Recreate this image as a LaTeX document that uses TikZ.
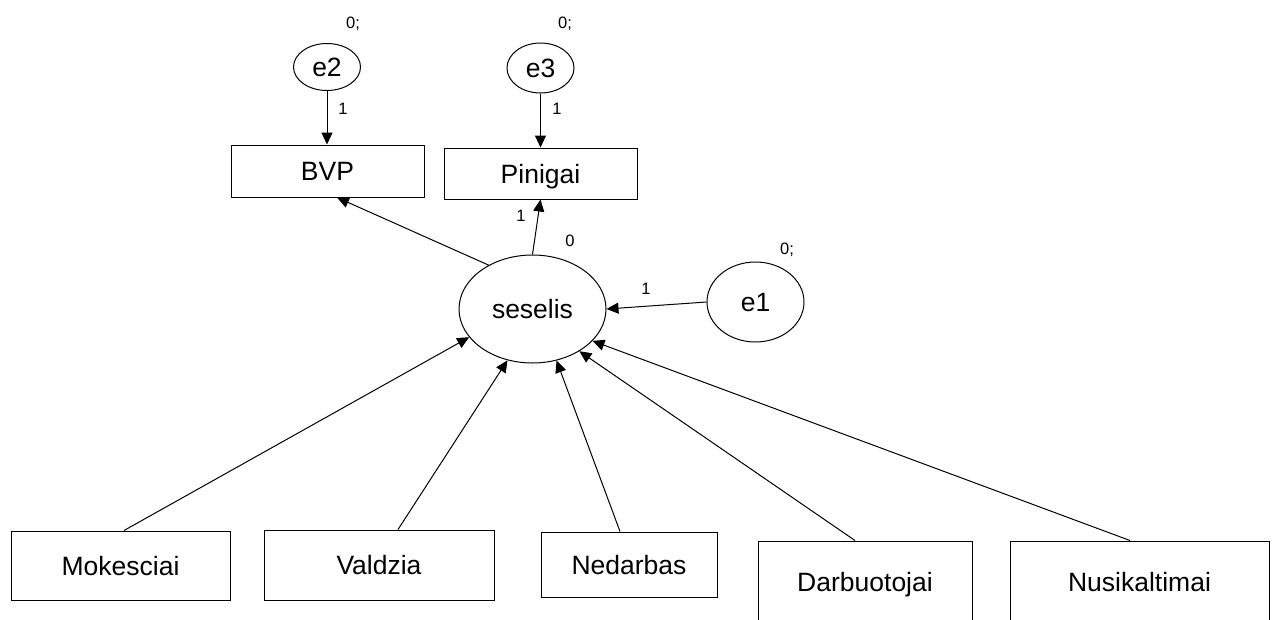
\documentclass[tikz,border=0pt]{standalone}
\usepackage{fontspec}
\setmainfont{Liberation Sans}
\usetikzlibrary{shapes.geometric,arrows.meta,calc}
\begin{document}
\begin{tikzpicture}[x=1pt,y=-1pt,
  every node/.style={inner sep=0pt},
  obs/.style={draw,rectangle,line width=1pt,font=\fontsize{26.5}{30}\selectfont,text height=19pt,text depth=0pt},
  lat/.style={draw,ellipse,line width=1pt,font=\fontsize{26.5}{30}\selectfont,text height=19pt,text depth=0pt},
  par/.style={font=\fontsize{16.5}{19}\selectfont,text height=12pt,text depth=0pt},
  reg/.style={line width=1pt,-{Triangle[length=12pt,width=11pt]}}
]
\useasboundingbox (0,0) rectangle (1278,619);
\clip (0,0) rectangle (1278,619);

% latent variables and error terms
\node[lat,minimum width=67pt,minimum height=47pt] (e2) at (327,67) {e2};
\node[lat,minimum width=67pt,minimum height=50pt] (e3) at (540.5,68) {e3};
\node[lat,minimum width=147pt,minimum height=108pt] (ses) at (532.5,309) {seselis};
\node[lat,minimum width=97pt,minimum height=80pt] (e1) at (755.5,302) {e1};

% observed variables
\node[obs,minimum width=193pt,minimum height=52pt] (bvp) at (327.5,171) {BVP};
\node[obs,minimum width=193pt,minimum height=51pt] (pin) at (540.5,173.5) {Pinigai};
\node[obs,minimum width=219pt,minimum height=69pt] (mok) at (120.5,565.5) {Mokesciai};
\node[obs,minimum width=230pt,minimum height=70pt] (val) at (379,565) {Valdzia};
\node[obs,minimum width=176pt,minimum height=65pt] (ned) at (629,564.5) {Nedarbas};
\node[obs,minimum width=214pt,minimum height=82pt] (darb) at (865,582) {Darbuotojai};
\node[obs,minimum width=259pt,minimum height=82pt] (nus) at (1139.5,582) {Nusikaltimai};

% paths
\draw[reg] (e2.south) -- (e2.south |- bvp.north);
\draw[reg] (e3.south) -- (e3.south |- pin.north);
\draw[reg] (ses.135) -- ($(bvp.south)+(9.5,0)$);
\draw[reg] (ses.north) -- (pin.south);
\draw[reg] (e1.west) -- (ses.east);
\draw[reg] ($(mok.north)+(3.5,0)$) -- (ses.204);
\draw[reg] ($(val.north)+(19,0)$) -- (ses.244);
\draw[reg] ($(ned.north)+(-9,0)$) -- (ses.295);
\draw[reg] ($(darb.north)+(-10,0)$) -- (ses.318);
\draw[reg] ($(nus.north)+(-9.5,0)$) -- (ses.332);

% parameter labels
\node[par] (v2) at (353,22) {0;};
\node[par] (v3) at (565,22) {0;};
\node[par] (v1) at (787,248) {0;};
\node[par] (m0) at (570,240) {0};
\node[par] (w2) at (343,108) {1};
\node[par] (w3) at (557,108) {1};
\node[par] (wp) at (521,215) {1};
\node[par] (w1) at (646,288) {1};
\end{tikzpicture}
\end{document}
